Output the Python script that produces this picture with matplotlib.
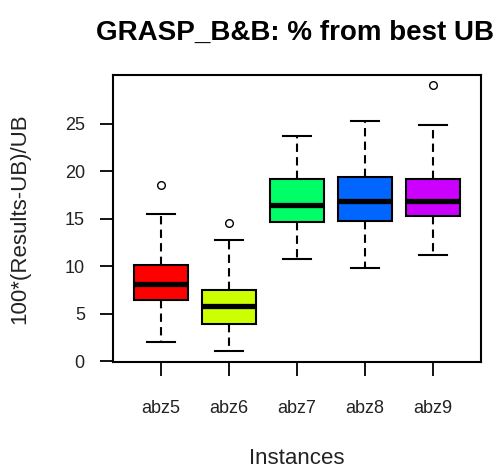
import matplotlib
matplotlib.use("Agg")
import matplotlib.pyplot as plt

plt.rcParams['font.family'] = ['Liberation Sans', 'DejaVu Sans']

instances = ["abz5", "abz6", "abz7", "abz8", "abz9"]
q1 = [6.4, 3.9, 14.6, 14.7, 15.3]
medians = [8.1, 5.8, 16.4, 16.8, 16.8]
q3 = [10.1, 7.45, 19.2, 19.4, 19.2]
whislo = [2.0, 1.1, 10.7, 9.8, 11.2]
whishi = [15.5, 12.7, 23.7, 25.3, 24.8]
outliers = [[18.5], [14.5], [], [], [29.0]]
colors = ["#FF0000", "#CCFF00", "#00FF66", "#0066FF", "#CC00FF"]
yticks = [0, 5, 10, 15, 20, 25]

fig = plt.figure(figsize=(5.0, 4.73), dpi=100)
ax = fig.add_axes([0.2266, 0.234, 0.7348, 0.6074])

stats = []
for i, name in enumerate(instances):
    stats.append(dict(label=name, q1=q1[i], med=medians[i], q3=q3[i],
                      whislo=whislo[i], whishi=whishi[i], fliers=outliers[i]))

bp = ax.bxp(stats, positions=range(1, len(instances) + 1), widths=0.8,
            patch_artist=True, showfliers=True,
            boxprops=dict(linewidth=1.5, edgecolor='black'),
            medianprops=dict(color='black', linewidth=3.8, solid_capstyle='butt'),
            whiskerprops=dict(color='black', linewidth=1.5, linestyle=(0, (4, 2.5))),
            capprops=dict(color='black', linewidth=1.5),
            flierprops=dict(marker='o', markerfacecolor='white', markeredgecolor='black',
                            markersize=5.5, markeredgewidth=1.0, linestyle='none'))
for patch, c in zip(bp['boxes'], colors):
    patch.set_facecolor(c)
for cap in bp['caps']:
    x = cap.get_xdata()
    m = (x[0] + x[1]) / 2
    cap.set_xdata([m - 0.2, m + 0.2])

ax.set_xlim(0.3, 5.7)
ax.set_ylim(-0.12, 30.1)
ax.set_yticks(yticks)
ax.set_yticklabels([str(v) for v in yticks])
ax.set_xticks(range(1, len(instances) + 1))
ax.set_xticklabels(instances)

ax.tick_params(axis='y', length=9.5, width=1.3, pad=11, labelsize=13, labelcolor='#222222')
ax.tick_params(axis='x', length=10, width=1.3, pad=17, labelsize=13, labelcolor='#222222')
for s in ax.spines.values():
    s.set_linewidth(1.5)

fig.text(0.04, 0.538, "100*(Results-UB)/UB", rotation=90, ha='center', va='center',
         fontsize=16, color='#222222')
fig.text(0.594, 0.031, "Instances", ha='center', va='center', fontsize=16, color='#222222')
fig.text(0.59, 0.930, "GRASP_B&B: % from best UB", ha='center', va='center',
         fontsize=20, fontweight='bold', color='black')

fig.savefig("out.png", dpi=100)
